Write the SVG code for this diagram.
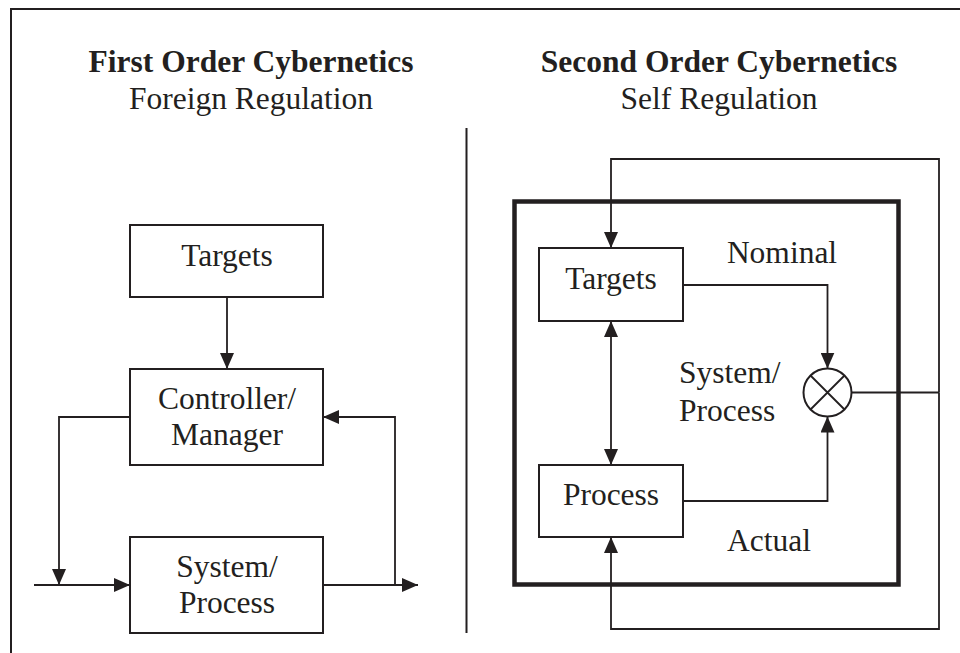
<svg xmlns="http://www.w3.org/2000/svg" width="960" height="653" viewBox="0 0 960 653">
  <style>
    text { font-family: "Liberation Serif", "Times New Roman", serif; font-size: 31.5px; fill: #231f20; }
    .title { font-weight: bold; }
    .mid { text-anchor: middle; }
    .box { fill: #fff; stroke: #231f20; stroke-width: 2; }
    .line { fill: none; stroke: #231f20; stroke-width: 1.8; }
    .arrow { marker-end: url(#head); }
  </style>
  <defs>
    <marker id="head" markerUnits="userSpaceOnUse" markerWidth="16" markerHeight="14" refX="16" refY="7" orient="auto-start-reverse">
      <path d="M0,0 L16,7 L0,14 z" fill="#231f20"/>
    </marker>
  </defs>

  <rect width="960" height="653" fill="#fff"/>
  <!-- page frame -->
  <path d="M11,653 V9 H960" fill="none" stroke="#231f20" stroke-width="2"/>
  <!-- divider between the two halves -->
  <line x1="466.5" y1="128" x2="466.5" y2="633" stroke="#231f20" stroke-width="2"/>

  <!-- headings -->
  <g id="heading-first">
    <text class="title mid" x="251" y="72">First Order Cybernetics</text>
    <text class="mid" x="251" y="109">Foreign Regulation</text>
  </g>
  <g id="heading-second">
    <text class="title mid" x="719" y="72">Second Order Cybernetics</text>
    <text class="mid" x="719" y="109">Self Regulation</text>
  </g>

  <!-- self-regulating system boundary -->
  <rect id="system-boundary" x="514.5" y="201.5" width="384" height="383" fill="none" stroke="#231f20" stroke-width="4.5"/>

  <!-- connectors -->
  <g id="connectors">
    <!-- first order -->
    <line class="line arrow" x1="227" y1="297" x2="227" y2="369"/>
    <polyline class="line arrow" points="130,417 59,417 59,585"/>
    <line class="line arrow" x1="34" y1="585" x2="130" y2="585"/>
    <line class="line arrow" x1="323" y1="585" x2="418" y2="585"/>
    <polyline class="line arrow" points="395,585 395,417 323,417"/>
    <!-- second order -->
    <polyline class="line arrow" points="939,392.5 939,159 611,159 611,248"/>
    <polyline class="line arrow" points="939,392.5 939,629 611,629 611,537"/>
    <line class="line" x1="851.5" y1="392.5" x2="939" y2="392.5"/>
    <line class="line arrow" style="marker-start:url(#head)" x1="611" y1="321" x2="611" y2="465"/>
    <polyline class="line arrow" points="683,285 827.5,285 827.5,368.5"/>
    <polyline class="line arrow" points="683,501 827.5,501 827.5,416.5"/>
  </g>

  <!-- first order nodes -->
  <g id="fo-targets">
    <rect class="box" x="130" y="225" width="193" height="72"/>
    <text class="mid" x="227" y="266">Targets</text>
  </g>
  <g id="fo-controller">
    <rect class="box" x="130" y="369" width="193" height="96"/>
    <text class="mid" x="227" y="409">Controller/</text>
    <text class="mid" x="227" y="445">Manager</text>
  </g>
  <g id="fo-system">
    <rect class="box" x="130" y="537" width="193" height="96"/>
    <text class="mid" x="227" y="577">System/</text>
    <text class="mid" x="227" y="613">Process</text>
  </g>

  <!-- second order nodes -->
  <g id="so-targets">
    <rect class="box" x="539" y="248" width="144" height="73"/>
    <text class="mid" x="611" y="289">Targets</text>
  </g>
  <g id="so-process">
    <rect class="box" x="539" y="465" width="144" height="72"/>
    <text class="mid" x="611" y="505">Process</text>
  </g>
  <g id="so-comparator">
    <circle cx="827.5" cy="392.5" r="24" fill="#fff" stroke="#231f20" stroke-width="2"/>
    <path d="M810.5,375.5 L844.5,409.5 M844.5,375.5 L810.5,409.5" stroke="#231f20" stroke-width="1.8"/>
  </g>

  <!-- labels -->
  <g id="labels">
    <text class="mid" x="782" y="263">Nominal</text>
    <text x="679" y="383">System/</text>
    <text x="679" y="421">Process</text>
    <text class="mid" x="769" y="551">Actual</text>
  </g>
</svg>
